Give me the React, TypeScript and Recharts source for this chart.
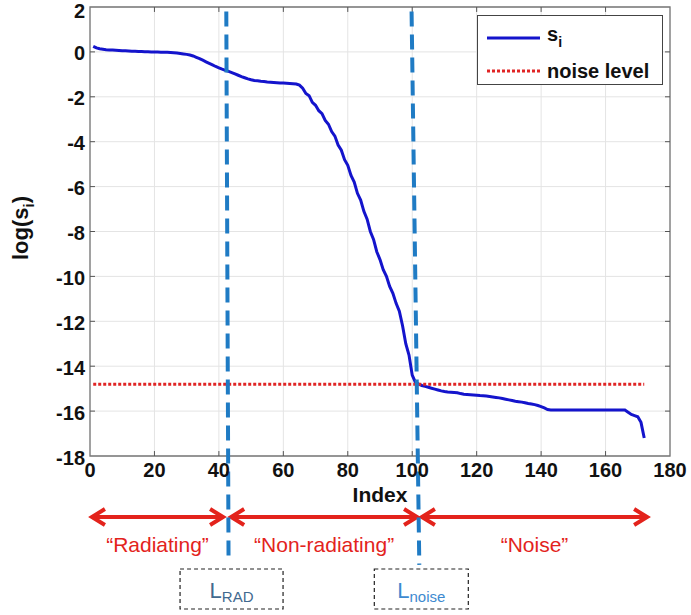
import {
  ComposedChart,
  Line,
  XAxis,
  YAxis,
  CartesianGrid,
  ReferenceLine,
  ReferenceArea,
  Legend,
} from 'recharts';

// log of the singular values, index 1..172
const logS = [
  0.25, 0.18, 0.14, 0.12, 0.1, 0.09, 0.08, 0.07, 0.06, 0.05,
  0.05, 0.04, 0.03, 0.03, 0.02, 0.02, 0.01, 0.01, 0.0, 0.0,
  0.0, -0.01, -0.01, -0.02, -0.03, -0.04, -0.05, -0.07, -0.09, -0.11,
  -0.14, -0.18, -0.24, -0.3, -0.37, -0.44, -0.51, -0.58, -0.65, -0.71,
  -0.77, -0.82, -0.87, -0.92, -0.98, -1.04, -1.1, -1.15, -1.2, -1.24,
  -1.27, -1.29, -1.31, -1.32, -1.34, -1.35, -1.36, -1.37, -1.38, -1.39,
  -1.4, -1.41, -1.42, -1.43, -1.48, -1.62, -1.85, -1.95, -2.25, -2.38,
  -2.62, -2.75, -3.05, -3.22, -3.55, -3.75, -4.15, -4.38, -4.8, -5.05,
  -5.5, -5.8, -6.3, -6.6, -7.1, -7.45, -8.0, -8.35, -8.9, -9.25,
  -9.7, -10.0, -10.45, -10.75, -11.2, -11.55, -12.2, -13.0, -13.5, -14.4,
  -14.72, -14.8, -14.86, -14.9, -14.94, -14.98, -15.02, -15.06, -15.1, -15.13,
  -15.15, -15.16, -15.17, -15.18, -15.22, -15.25, -15.26, -15.27, -15.28, -15.29,
  -15.31, -15.32, -15.33, -15.35, -15.37, -15.39, -15.41, -15.44, -15.47, -15.5,
  -15.53, -15.56, -15.58, -15.6, -15.63, -15.66, -15.68, -15.71, -15.75, -15.8,
  -15.86, -15.93, -15.95, -15.95, -15.95, -15.95, -15.95, -15.95, -15.95, -15.95,
  -15.95, -15.95, -15.95, -15.95, -15.95, -15.95, -15.95, -15.95, -15.95, -15.95,
  -15.95, -15.95, -15.95, -15.95, -15.95, -15.95, -16.05, -16.15, -16.2, -16.25,
  -16.5, -17.2,
];

const NOISE_LEVEL = -14.8;

const xTicks = [0, 20, 40, 60, 80, 100, 120, 140, 160, 180];
const yTicks = [-18, -16, -14, -12, -10, -8, -6, -4, -2, 0, 2];

// thresholds (top / bottom of the dashed markers, in index units)
const L_RAD = { top: 42.3, bottom: 43.0 };
const L_NOISE = { top: 99.8, bottom: 102.2 };

const regionNames = ['\u201cRadiating\u201d', '\u201cNon-radiating\u201d', '\u201cNoise\u201d'];
const regionSpans: [number, number][] = [
  [0.6, 41.3],
  [43.8, 101.5],
  [103.0, 172.9],
];

const legendOrder = ['logS', 'noise'];

const data = logS.map((v, i) => ({ idx: i + 1, logS: v, noise: NOISE_LEVEL }));

const W = 691;
const H = 615;
const PLOT_LEFT = 90;
const PLOT_RIGHT = 670;
const PLOT_TOP = 7;
const PLOT_BOTTOM = 456;
const FONT = '"Liberation Sans", Arial, Helvetica, sans-serif';
const RED = '#e3231c';
const MARKER_BLUE = '#1f7bc4';

const xPix = (v: number) => PLOT_LEFT + (v / 180) * (PLOT_RIGHT - PLOT_LEFT);

const renderLegend = (props: any) => {
  const items = [...(props.payload || [])].sort(
    (a: any, b: any) => legendOrder.indexOf(a.dataKey) - legendOrder.indexOf(b.dataKey)
  );
  return (
    <div
      style={{
        border: '1px solid #444',
        background: '#fff',
        width: 186,
        height: 70,
        boxSizing: 'border-box',
        paddingTop: 5,
        fontFamily: FONT,
        fontWeight: 'bold',
        fontSize: 20,
        color: '#111',
      }}
    >
      {items.map((item: any) => (
        <div key={item.dataKey} style={{ display: 'flex', alignItems: 'center', height: 33 }}>
          <svg width={60} height={10} style={{ marginLeft: 9 }}>
            <line
              x1={0}
              x2={53}
              y1={5}
              y2={5}
              stroke={item.color}
              strokeWidth={3}
              strokeDasharray={item.dataKey === 'noise' ? '3 2' : undefined}
            />
          </svg>
          <span style={{ lineHeight: '20px' }}>
            {item.dataKey === 'logS' ? (
              <>
                s<sub style={{ fontSize: 14, verticalAlign: -6 }}>i</sub>
              </>
            ) : (
              item.value
            )}
          </span>
        </div>
      ))}
    </div>
  );
};

// y tick label; the topmost one is nudged down so it stays inside the canvas
function YTick({ x, y, payload }: any) {
  const shift = payload.value === 2 ? 4 : 1.5;
  return (
    <text
      x={x}
      y={y + shift}
      textAnchor="end"
      dominantBaseline="central"
      fill="#111"
      fontSize={20}
      fontWeight="bold"
      fontFamily={FONT}
    >
      {payload.value}
    </text>
  );
}

function Arrow({ x1, x2, y }: { x1: number; x2: number; y: number }) {
  const head = 13;
  const half = 8;
  return (
    <g stroke={RED} strokeWidth={4} fill="none" strokeLinejoin="miter">
      <line x1={x1 + 2} y1={y} x2={x2 - 2} y2={y} />
      <polyline points={`${x1 + head},${y - half} ${x1},${y} ${x1 + head},${y + half}`} />
      <polyline points={`${x2 - head},${y - half} ${x2},${y} ${x2 - head},${y + half}`} />
    </g>
  );
}

function ThresholdBox({ cx, w, main, sub, color }: { cx: number; w: number; main: string; sub: string; color: string }) {
  return (
    <g>
      <rect x={cx - w / 2} y={569} width={w} height={40} fill="none" stroke="#222" strokeWidth={1.2} strokeDasharray="4 3" />
      <text x={cx} y={598} textAnchor="middle" fill={color} fontFamily={FONT} fontSize={22}>
        {main}
        <tspan fontSize={15} dy={4}>
          {sub}
        </tspan>
      </text>
    </g>
  );
}

export default function App() {
  const tickStyle = { fill: '#111', fontSize: 20, fontWeight: 'bold', fontFamily: FONT };
  const xLen = 1.55;
  const yLen = 0.22;
  return (
    <div style={{ position: 'absolute', left: 0, top: 0, background: '#fff' }}>
      <ComposedChart
        width={W}
        height={H}
        data={data}
        margin={{ top: PLOT_TOP, right: W - PLOT_RIGHT, bottom: 0, left: 0 }}
      >
        <CartesianGrid stroke="#e4e4e4" strokeWidth={1} />
        <XAxis
          dataKey="idx"
          type="number"
          domain={[0, 180]}
          ticks={xTicks}
          interval={0}
          height={H - PLOT_BOTTOM}
          axisLine={false}
          tickLine={false}
          tickSize={0}
          tickMargin={7}
          tick={tickStyle}
          label={{
            value: 'Index',
            position: 'insideTop',
            offset: 31,
            fill: '#111',
            fontSize: 21,
            fontWeight: 'bold',
            fontFamily: FONT,
          }}
        />
        <YAxis
          type="number"
          domain={[-18, 2]}
          ticks={yTicks}
          interval={0}
          width={PLOT_LEFT}
          axisLine={false}
          tickLine={false}
          tickSize={0}
          tickMargin={5}
          tick={<YTick />}
        />
        <ReferenceArea x1={0} x2={180} y1={-18} y2={2} fill="none" stroke="#777" strokeWidth={1.3} />
        {xTicks.slice(1, -1).map((t) => (
          <ReferenceLine key={`xb${t}`} segment={[{ x: t, y: -18 }, { x: t, y: -18 + yLen }]} stroke="#555" />
        ))}
        {xTicks.slice(1, -1).map((t) => (
          <ReferenceLine key={`xt${t}`} segment={[{ x: t, y: 2 }, { x: t, y: 2 - yLen }]} stroke="#555" />
        ))}
        {yTicks.slice(1, -1).map((t) => (
          <ReferenceLine key={`yl${t}`} segment={[{ x: 0, y: t }, { x: xLen, y: t }]} stroke="#555" />
        ))}
        {yTicks.slice(1, -1).map((t) => (
          <ReferenceLine key={`yr${t}`} segment={[{ x: 180, y: t }, { x: 180 - xLen, y: t }]} stroke="#555" />
        ))}
        <Line
          dataKey="logS"
          name="si"
          stroke="#1414cc"
          strokeWidth={3}
          dot={false}
          isAnimationActive={false}
          legendType="line"
        />
        <Line
          dataKey="noise"
          name="noise level"
          stroke="#e02424"
          strokeWidth={3}
          strokeDasharray="3 2"
          dot={false}
          isAnimationActive={false}
          legendType="line"
        />
        <ReferenceLine
          segment={[{ x: L_RAD.top, y: 1.8 }, { x: L_RAD.bottom, y: -22.75 }]}
          ifOverflow="visible"
          stroke={MARKER_BLUE}
          strokeWidth={4}
          strokeDasharray="15 8"
        />
        <ReferenceLine
          segment={[{ x: L_NOISE.top, y: 1.8 }, { x: L_NOISE.bottom, y: -22.85 }]}
          ifOverflow="visible"
          stroke={MARKER_BLUE}
          strokeWidth={4}
          strokeDasharray="15 8"
        />
        <Legend
          layout="vertical"
          align="center"
          verticalAlign="middle"
          content={renderLegend}
          wrapperStyle={{ left: 477, top: 15, width: 186, height: 70 }}
        />
        <text
          x={27.5}
          y={228}
          transform="rotate(-90 27.5 228)"
          textAnchor="middle"
          fill="#111"
          fontFamily={FONT}
          fontWeight="bold"
          fontSize={22}
        >
          log(s
          <tspan fontSize={15} dy={6}>
            i
          </tspan>
          <tspan dy={-6}>)</tspan>
        </text>
        {regionSpans.map(([a, b], i) => (
          <g key={regionNames[i]}>
            <Arrow x1={xPix(a)} x2={xPix(b)} y={517} />
            <text
              x={(xPix(a) + xPix(b)) / 2}
              y={552}
              textAnchor="middle"
              fill={RED}
              fontFamily={FONT}
              fontSize={21}
            >
              {regionNames[i]}
            </text>
          </g>
        ))}
        <ThresholdBox cx={xPix(L_RAD.bottom) + 3} w={103} main="L" sub="RAD" color="#41698f" />
        <ThresholdBox cx={xPix(L_NOISE.bottom) + 2} w={94} main="L" sub="noise" color="#3d8ad0" />
      </ComposedChart>
    </div>
  );
}
